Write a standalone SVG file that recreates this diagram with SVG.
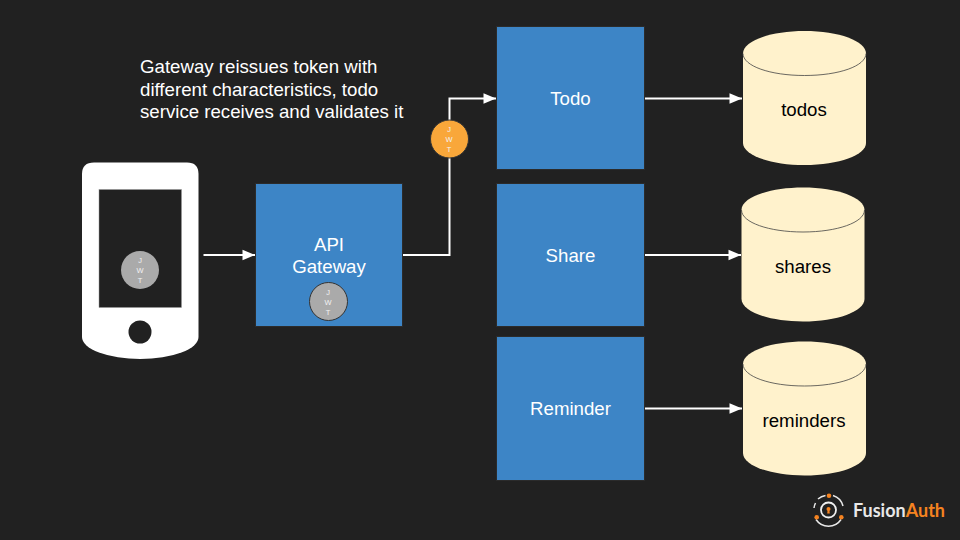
<svg xmlns="http://www.w3.org/2000/svg" width="960" height="540" viewBox="0 0 960 540">
<defs>
<marker id="arrow" markerUnits="userSpaceOnUse" markerWidth="14" markerHeight="12" refX="13" refY="6" orient="auto"><path d="M0.500,0.800 L13,6 L0.500,11.200 Z" fill="#fff"/></marker>
</defs>
<style>
text{font-family:"Liberation Sans",Arial,sans-serif}
.box{fill:#3d85c6;stroke:#2b2b2b;stroke-width:1}
.lbl{fill:#fff;font-size:18.670px;text-anchor:middle}
.dbl{fill:#000;font-size:18.670px;text-anchor:middle}
.conn{fill:none;stroke:#fff;stroke-width:2;marker-end:url(#arrow)}
.cyl{fill:#fff2cc}
.cylr{fill:none;stroke:#444;stroke-width:0.800}
.j{fill:#f3f3f3;font-size:7.500px;text-anchor:middle}
.tok{stroke:#333;stroke-width:1}
</style>
<rect width="960" height="540" fill="#212121"/>
<text x="140" y="72.500" fill="#fff" font-size="18.670">Gateway reissues token with</text>
<text x="140" y="95.500" fill="#fff" font-size="18.670">different characteristics, todo</text>
<text x="140" y="117.500" fill="#fff" font-size="18.670">service receives and validates it</text>
<g id="connectors">
<path class="conn" d="M203.500,255 H255"/>
<path class="conn" d="M403,255 H449.500 V98.500 H496"/>
<path class="conn" d="M645,98.500 H742"/>
<path class="conn" d="M645,255 H741"/>
<path class="conn" d="M645,408.500 H742"/>
</g>
<g id="phone">
<path d="M94,162.500 H187 Q198.500,162.500 198.500,174 V337 A58.250,22 0 0 1 82,337 V174 Q82,162.500 94,162.500 Z" fill="#fff"/>
<rect x="99" y="189.500" width="82.500" height="118" fill="#212121" stroke="#999" stroke-width="0.500"/>
<circle cx="140" cy="332" r="11.500" fill="#212121"/>
<circle cx="140" cy="270" r="19" fill="#aaa"/>
<text class="j" x="140" y="263">J</text><text class="j" x="140" y="273">W</text><text class="j" x="140" y="283">T</text>
</g>
<g id="gateway">
<rect class="box" x="255.500" y="183.500" width="147" height="143"/>
<text class="lbl" x="329" y="251">API</text>
<text class="lbl" x="329" y="273">Gateway</text>
<circle class="tok" cx="328.500" cy="301.500" r="19" fill="#aaa"/>
<text class="j" x="328" y="294.500">J</text><text class="j" x="328" y="304.500">W</text><text class="j" x="328" y="314.500">T</text>
</g>
<g id="token">
<circle class="tok" cx="449.500" cy="139" r="19" fill="#f9a73a"/>
<text class="j" x="449" y="132">J</text><text class="j" x="449" y="142">W</text><text class="j" x="449" y="152">T</text>
</g>
<g id="todo"><rect class="box" x="496.500" y="26.500" width="148" height="143"/><text class="lbl" x="570.500" y="104.500">Todo</text></g>
<g id="share"><rect class="box" x="496.500" y="183.500" width="148" height="143"/><text class="lbl" x="570.500" y="261.500">Share</text></g>
<g id="reminder"><rect class="box" x="496.500" y="336.500" width="148" height="144"/><text class="lbl" x="570.500" y="415">Reminder</text></g>
<g id="todos">
<path class="cyl" d="M743,53.500 C743,41 770,31 804.500,31 C839,31 866,41 866,53.500 V143 C866,155 839,165 804.500,165 C770,165 743,155 743,143 Z"/>
<path class="cylr" d="M743,53.500 C743,66 770,75.500 804.500,75.500 C839,75.500 866,66 866,53.500"/>
<text class="dbl" x="804" y="116">todos</text>
</g>
<g id="shares">
<path class="cyl" d="M741.500,210 C741.500,197.500 769,187.500 803,187.500 C837,187.500 864.500,197.500 864.500,210 V299 C864.500,311.500 837,321.500 803,321.500 C769,321.500 741.500,311.500 741.500,299 Z"/>
<path class="cylr" d="M741.500,210 C741.500,222.500 769,232 803,232 C837,232 864.500,222.500 864.500,210"/>
<text class="dbl" x="803" y="273">shares</text>
</g>
<g id="reminders">
<path class="cyl" d="M743,364 C743,351.500 770,341.500 804.500,341.500 C839,341.500 866,351.500 866,364 V453 C866,465.500 839,475.500 804.500,475.500 C770,475.500 743,465.500 743,453 Z"/>
<path class="cylr" d="M743,364 C743,376.500 770,386 804.500,386 C839,386 866,376.500 866,364"/>
<text class="dbl" x="804" y="427">reminders</text>
</g>
<g id="logo">
<circle cx="828.500" cy="510" r="7.500" fill="none" stroke="#f0f0f0" stroke-width="1.800"/>
<path d="M818,499 A15,15 0 0 1 825.500,495.500 M833,495.500 A15,15 0 0 1 843,506 M816,519.500 A15,15 0 0 0 841,519.500 M814,508 A15,15 0 0 1 815.500,503" fill="none" stroke="#e8e8e8" stroke-width="1.500"/>
<circle cx="829" cy="495.700" r="2.300" fill="#f58320"/><circle cx="816.700" cy="517.300" r="2.300" fill="#f58320"/><circle cx="841.300" cy="517.300" r="2.300" fill="#f58320"/>
<circle cx="828.500" cy="509" r="2" fill="#f58320"/><path d="M827.700,509.500 h1.600 l0.500,4 h-2.600 Z" fill="#f58320"/>
<text x="853" y="517" font-size="18" font-weight="bold" style="font-family:Lato,'Liberation Sans',sans-serif" fill="#e8e8e8">Fusion<tspan fill="#f58320">Auth</tspan></text>
</g>
</svg>
